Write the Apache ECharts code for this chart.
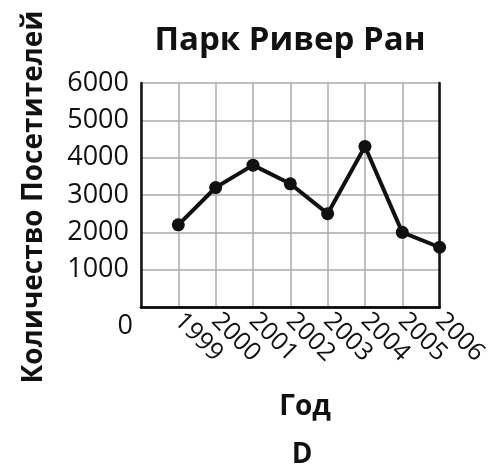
<!DOCTYPE html>
<html>
<head>
<meta charset="utf-8">
<script src="https://cdn.jsdelivr.net/npm/echarts@6/dist/echarts.min.js"></script>
<style>html,body{margin:0;padding:0;background:#fff}#c{width:491px;height:472px}</style>
</head>
<body>
<div id="c"></div>
<script>
var years = [1999, 2000, 2001, 2002, 2003, 2004, 2005, 2006];
var visitors = [2200, 3200, 3800, 3300, 2500, 4300, 2000, 1600];
var yTicks = [0, 1000, 2000, 3000, 4000, 5000, 6000];
var titleText = 'Парк Ривер Ран';
var yName = 'Количество Посетителей';
var xName = 'Год';
var footText = 'D';

var FONT = '"Open Sans", "Noto Sans", sans-serif';
var chart = echarts.init(document.getElementById('c'), null, {renderer: 'canvas'});
var data = years.map(function (y, i) { return [y, visitors[i]]; });
var xMin = years[0] - 1, xMax = years[years.length - 1];
var yMin = yTicks[0], yMax = yTicks[yTicks.length - 1], yStep = yTicks[1] - yTicks[0];

chart.setOption({
  animation: false,
  backgroundColor: '#fff',
  grid: {left: 141, top: 83, right: 50, bottom: 165, containLabel: false},
  xAxis: [{
    type: 'value', min: xMin, max: xMax, interval: 1,
    axisLine: {show: true, lineStyle: {color: '#111', width: 2.5}},
    axisTick: {show: false},
    splitLine: {show: true, lineStyle: {color: '#aaa', width: 1.5}},
    axisLabel: {
      rotate: -45, margin: 10, fontFamily: FONT, fontSize: 25, color: '#111',
      formatter: function (v) { return v === xMin ? '' : String(v); }
    }
  }, {
    type: 'value', position: 'top', min: xMin, max: xMax, interval: 1,
    axisLine: {show: true, lineStyle: {color: '#111', width: 2.5}},
    axisTick: {show: false}, axisLabel: {show: false}, splitLine: {show: false}
  }],
  yAxis: [{
    type: 'value', min: yMin, max: yMax, interval: yStep,
    axisLine: {show: true, lineStyle: {color: '#111', width: 2.5}},
    axisTick: {show: false},
    splitLine: {show: true, lineStyle: {color: '#aaa', width: 1.5}},
    axisLabel: {
      margin: 12, fontFamily: FONT, fontSize: 27, color: '#111',
      formatter: function (v) { return v === yMin ? '' : String(v); }
    }
  }, {
    type: 'value', position: 'right', min: yMin, max: yMax, interval: yStep,
    axisLine: {show: true, lineStyle: {color: '#111', width: 2.5}},
    axisTick: {show: false}, axisLabel: {show: false}, splitLine: {show: false}
  }],
  graphic: [
    {type: 'text', x: 290, y: 41,
      style: {text: titleText, font: 'bold 33px ' + FONT, fill: '#111', textAlign: 'center', textVerticalAlign: 'middle'}},
    {type: 'text', x: 133, y: 326,
      style: {text: String(yMin), font: '27px ' + FONT, fill: '#111', textAlign: 'right', textVerticalAlign: 'middle'}},
    {type: 'text', x: 34, y: 197, rotation: Math.PI / 2,
      style: {text: yName, font: 'bold 28px ' + FONT, fill: '#111', textAlign: 'center', textVerticalAlign: 'middle'}},
    {type: 'text', x: 305, y: 407,
      style: {text: xName, font: 'bold 28px ' + FONT, fill: '#111', textAlign: 'center', textVerticalAlign: 'middle'}},
    {type: 'text', x: 302, y: 455,
      style: {text: footText, font: 'bold 28px ' + FONT, fill: '#111', textAlign: 'center', textVerticalAlign: 'middle'}}
  ],
  series: [{
    type: 'line', data: data, xAxisIndex: 0, yAxisIndex: 0,
    symbol: 'circle', symbolSize: 13,
    lineStyle: {color: '#111', width: 4},
    itemStyle: {color: '#111'}
  }]
});
</script>
</body>
</html>
